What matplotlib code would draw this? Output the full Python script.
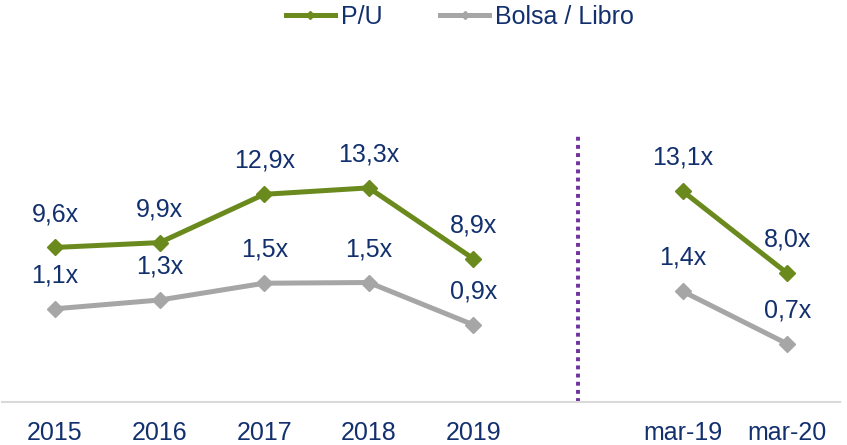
import numpy as np
import matplotlib
matplotlib.use("Agg")
import matplotlib.pyplot as plt
from matplotlib.lines import Line2D

plt.rcParams['font.family'] = ['Liberation Sans', 'DejaVu Sans']

# categories (empty slot separates yearly data from March comparison)
categories = ['2015', '2016', '2017', '2018', '2019', '', 'mar-19', 'mar-20']
pu_values = [9.6, 9.9, 12.9, 13.3, 8.9, np.nan, 13.1, 8.0]
pb_values = [1.14, 1.26, 1.49, 1.50, 0.92, np.nan, 1.38, 0.66]
series_names = ['P/U', 'Bolsa / Libro']

GREEN = '#6B8A1E'
GRAY = '#A6A6A6'
NAVY = '#13306E'
PURPLE = '#7030A0'
FS = 18


def fmt(v):
    return f"{v:.1f}".replace('.', ',') + 'x'


fig = plt.figure(figsize=(8.47, 4.45), dpi=100)
ax = fig.add_axes([2 / 847, 43 / 445, 838 / 847, 302 / 445])
ax2 = ax.twinx()

x = np.arange(len(categories))

ax.plot(x, pu_values, color=GREEN, lw=3.6, marker='D', ms=8.5,
        solid_joinstyle='miter', zorder=3)
ax2.plot(x, pb_values, color=GRAY, lw=3.6, marker='D', ms=8.5,
         solid_joinstyle='miter', zorder=3)

for xi, v in zip(x, pu_values):
    if not np.isnan(v):
        ax.annotate(fmt(v), (xi, v), xytext=(0, 19), textcoords='offset points',
                    ha='center', va='baseline', fontsize=FS, color=NAVY)
for xi, v in zip(x, pb_values):
    if not np.isnan(v):
        ax2.annotate(fmt(v), (xi, v), xytext=(0, 19), textcoords='offset points',
                     ha='center', va='baseline', fontsize=FS, color=NAVY)

ax.set_xlim(-0.507, 7.505)
ax.set_ylim(0, 302 / 16.1)
ax2.set_ylim(-10 / 73, 292 / 73)

# divider between annual and March figures
ax.axvline(categories.index(''), ymin=0, ymax=0.884, color=PURPLE, lw=2.8,
           dashes=(1, 1.1), dash_capstyle='butt')

ax.set_xticks(x)
ax.set_xticklabels(categories, fontsize=FS, color=NAVY)
ax.tick_params(axis='x', length=0, pad=13.5)
ax.set_yticks([])
ax2.set_yticks([])
for a in (ax, ax2):
    for s in ('top', 'left', 'right'):
        a.spines[s].set_visible(False)
ax2.spines['bottom'].set_visible(False)
ax.spines['bottom'].set_color('#D9D9D9')
ax.spines['bottom'].set_linewidth(1.5)

handles = [
    Line2D([], [], color=GREEN, lw=3.6, marker='D', ms=4.5),
    Line2D([], [], color=GRAY, lw=3.6, marker='D', ms=4.5),
]
leg = fig.legend(handles, series_names, loc='center', ncol=2,
                 bbox_to_anchor=(460 / 847, 1 - 17 / 445), frameon=False,
                 fontsize=FS, handlelength=1.95, handletextpad=0.25,
                 columnspacing=2.3, borderpad=0)
for t in leg.get_texts():
    t.set_color(NAVY)

fig.savefig('out.png', dpi=100)
